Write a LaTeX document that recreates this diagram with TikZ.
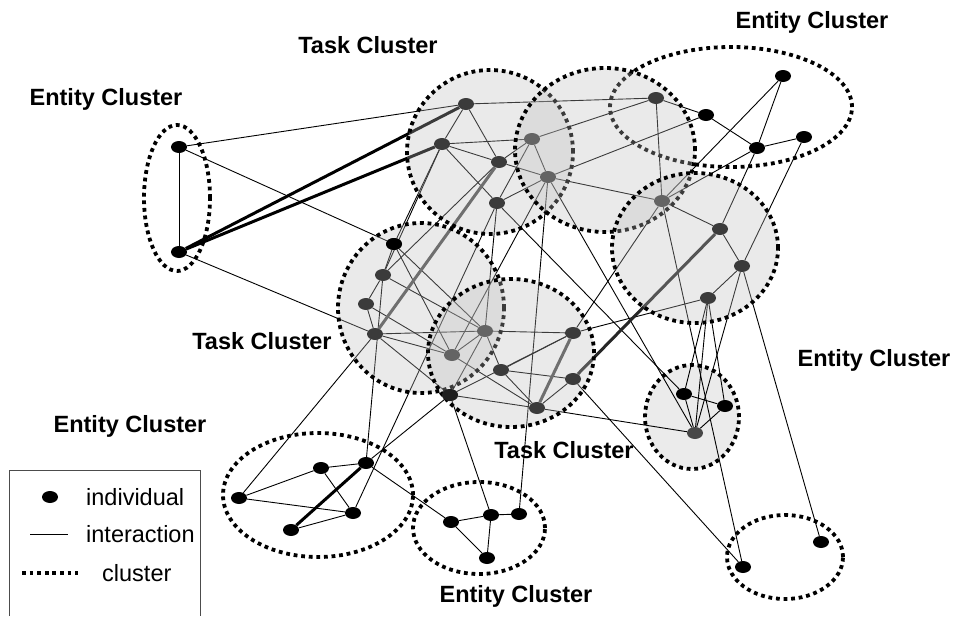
\documentclass[tikz,border=0pt]{standalone}
\usepackage{fontspec}
\setmainfont{Liberation Sans}
\usetikzlibrary{shapes.geometric}
\definecolor{cf}{gray}{0.746}
\definecolor{eg}{gray}{0.92}
\tikzset{
  dot/.style={ellipse, fill=black, draw=none, minimum width=16pt, minimum height=12pt, inner sep=0pt},
  gdot/.style={dot, fill=black!72},
  lk/.style={line width=0.9pt},
  thk/.style={line width=3pt},
  thkg/.style={line width=3pt, draw=black!70},
  clus/.style={line width=3.8pt, dash pattern=on 3.8pt off 3.8pt},
  tfill/.style={fill=cf, fill opacity=0.315},
  lab/.style={font=\fontsize{23.5}{28}\selectfont\bfseries, inner sep=0pt},
  leg/.style={font=\fontsize{23.5}{28}\selectfont, inner sep=0pt, anchor=west}
}
\begin{document}
\begin{tikzpicture}[x=1pt,y=-1pt]
\useasboundingbox[fill=white] (0,0) rectangle (957,616);
% entity cluster 5 background
\fill[eg] (692,417) ellipse [x radius=47pt, y radius=52pt];
% nodes
\node[dot] (E1a) at (179,147) {};
\node[dot] (E1b) at (179,252) {};
\node[dot] (T1a) at (466,104) {};
\node[dot] (T1b) at (442,144) {};
\node[dot] (T1c) at (499,162) {};
\node[dot] (T1d) at (497,203) {};
\node[dot] (T2a) at (532,139) {};
\node[dot] (T2b) at (548,177) {};
\node[dot] (T2c) at (656,98) {};
\node[dot] (ETa) at (706,115) {};
\node[dot] (ETb) at (783,76) {};
\node[dot] (ETc) at (757,148) {};
\node[dot] (ETd) at (804,137) {};
\node[dot] (T3a) at (662,201) {};
\node[dot] (T3b) at (720,229) {};
\node[dot] (T3c) at (742,266) {};
\node[dot] (T3d) at (708,298) {};
\node[dot] (L1) at (394,244) {};
\node[dot] (L2) at (383,275) {};
\node[dot] (L3) at (366,304) {};
\node[dot] (L4) at (375,334) {};
\node[dot] (M1) at (485,331) {};
\node[dot] (M2) at (452,355) {};
\node[dot] (M3) at (501,370) {};
\node[dot] (M4) at (450,395) {};
\node[dot] (R1) at (573,333) {};
\node[dot] (R2) at (573,379) {};
\node[dot] (R3) at (537,408) {};
\node[dot] (E5a) at (684,394) {};
\node[dot] (E5b) at (725,406) {};
\node[gdot] (E5c) at (695,433) {};
\node[dot] (EL1) at (239,498) {};
\node[dot] (EL2) at (321,468) {};
\node[dot] (EL3) at (366,463) {};
\node[dot] (EL4) at (353,513) {};
\node[dot] (EL5) at (291,530) {};
\node[dot] (EC1) at (451,522) {};
\node[dot] (EC2) at (491,515) {};
\node[dot] (EC3) at (519,514) {};
\node[dot] (EC4) at (487,558) {};
\node[dot] (EB1) at (743,567) {};
\node[dot] (EB2) at (821,542) {};
% thin edges
\foreach \a/\b in {E1a/E1b,E1a/T1a,E1a/L1,E1b/L4,T1a/T1b,T1a/T1c,T1a/T2c,T1b/T1c,T1b/T1d,T1b/T2a,
  T1b/L1,T1b/L2,T1c/T2a,T1c/T2b,T1c/L2,T1d/T2a,T1d/T2b,T1d/M1,T1d/EL4,T1d/E5a,T2a/T2b,T2a/T2c,
  T2b/T3a,T2b/ETa,T2b/EC3,T2b/E5c,T2b/M2,T2c/T3a,T2c/ETa,ETa/ETc,ETc/ETd,ETb/ETc,ETb/T3a,ETc/T3a,
  ETc/T3b,ETd/T3c,T3a/T3b,T3a/R1,T3a/EB1,T3b/T3c,T3c/T3d,T3c/E5c,T3c/EB2,T3d/R1,T3d/E5a,T3d/E5b,
  T3d/E5c,L1/L2,L1/M1,L1/M2,L2/L3,L2/M1,L2/EL3,L3/L4,L3/M2,L4/M1,L4/M2,L4/M4,L4/EL1,M1/M2,M1/M3,
  M1/M4,M1/R1,M2/R3,M3/R1,M3/R2,M3/R3,M4/R1,M4/R3,M4/EL3,M4/EC2,R2/R3,R2/EB1,R3/E5c,E5a/E5b,
  E5a/E5c,E5b/E5c,EL1/EL2,EL1/EL4,EL2/EL3,EL2/EL4,EL4/EL5,EL3/EC1,EC1/EC2,EC2/EC3,EC1/EC4,EC2/EC4}
  {\draw[lk] (\a) -- (\b);}
% thick edges
\draw[thk] (E1b) -- (T1a);
\draw[thk] (E1b) -- (T1b);
\draw[thk] (EL3) -- (EL5);
\draw[thk, draw=black!85] (T3b) -- (R2);
\draw[thkg] (T1c) -- (L4);
\draw[thkg] (R1) -- (R3);
% entity clusters
\draw[clus] (177,198) ellipse [x radius=33pt, y radius=73pt];
\draw[clus] (731,107) ellipse [x radius=121pt, y radius=60pt];
\draw[clus] (692,417) ellipse [x radius=47pt, y radius=52pt];
\draw[clus] (318,495) ellipse [x radius=95pt, y radius=62pt];
\draw[clus] (479,528) ellipse [x radius=66pt, y radius=46pt];
\draw[clus] (785,557) ellipse [x radius=58pt, y radius=42pt];
% task clusters (translucent overlays)
\fill[tfill] (490,152) ellipse [x radius=83pt, y radius=82pt];
\draw[clus] (490,152) ellipse [x radius=83pt, y radius=82pt];
\fill[tfill] (605,150) ellipse [x radius=90pt, y radius=82pt];
\draw[clus] (605,150) ellipse [x radius=90pt, y radius=82pt];
\fill[tfill] (695,248) ellipse [x radius=83pt, y radius=75pt];
\draw[clus] (695,248) ellipse [x radius=83pt, y radius=75pt];
\fill[tfill] (421,308) ellipse [x radius=83pt, y radius=85pt];
\draw[clus] (421,308) ellipse [x radius=83pt, y radius=85pt];
\fill[tfill] (511,353) ellipse [x radius=83pt, y radius=74pt];
\draw[clus] (511,353) ellipse [x radius=83pt, y radius=74pt];
% nodes shown black on top
\node[dot] (L1top) at (L1) {};
\node[dot, fill=black!88] (M4top) at (M4) {};
% labels
\node[lab] (lb1) at (368,45) {Task Cluster};
\node[lab] (lb2) at (106,99) {Entity Cluster};
\node[lab] (lb3) at (812,22) {Entity Cluster};
\node[lab] (lb4) at (262,341) {Task Cluster};
\node[lab] (lb5) at (874,360) {Entity Cluster};
\node[lab] (lb6) at (130,426) {Entity Cluster};
\node[lab] (lb7) at (564,450) {Task Cluster};
\node[lab] (lb8) at (516,596) {Entity Cluster};
% legend
\draw[line width=1pt, draw=black!70] (9,616) -- (9,470) -- (200,470) -- (200,616);
\node[dot] (lgdot) at (50,497) {};
\node[leg] (lgt1) at (86,497) {individual};
\coordinate (lgl1) at (30,534);
\coordinate (lgl2) at (68,534);
\draw[lk] (lgl1) -- (lgl2);
\node[leg] (lgt2) at (86,534) {interaction};
\coordinate (lgc1) at (22,573);
\coordinate (lgc2) at (78,573);
\draw[clus] (lgc1) -- (lgc2);
\node[leg] (lgt3) at (102,573) {cluster};
\end{tikzpicture}
\end{document}
